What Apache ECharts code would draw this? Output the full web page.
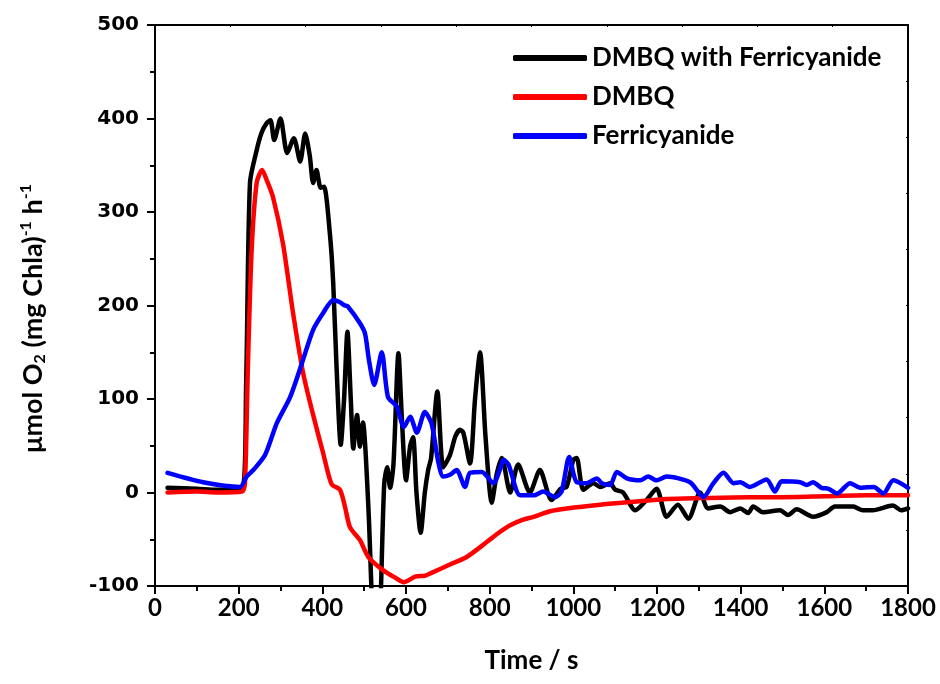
<!DOCTYPE html>
<html>
<head>
<meta charset="utf-8">
<script src="https://cdn.jsdelivr.net/npm/echarts@6/dist/echarts.min.js"></script>
<style>
  html, body { margin: 0; padding: 0; background: #fff; }
  #chart { width: 940px; height: 684px; }
</style>
</head>
<body>
<div id="chart"></div>
<script>
// time (s) / O2 rate pairs
const seriesNames = ['DMBQ with Ferricyanide', 'DMBQ', 'Ferricyanide']
const seriesColors = ['#000000', '#ff0000', '#0000ff']

const dmbqFerri = [
  [30, 5], [100, 4], [150, 3], [208, 3], [218, 120], [227, 331], [243, 366], [255, 385],
  [267, 395], [276, 398], [285, 377], [300, 400], [316, 363], [332, 379], [347, 354],
  [359, 384], [370, 360], [378, 331], [386, 345], [396, 326], [404, 327], [418, 277],
  [426, 224], [434, 134], [444, 51], [452, 100], [460, 172], [468, 100], [474, 47],
  [483, 83], [490, 49], [497, 75], [510, -15], [518, -110], [525, -180], [535, -170],
  [540, -105], [548, 10], [555, 27], [562, 5], [570, 30], [582, 149], [590, 80], [600, 13],
  [610, 50], [617, 59], [625, 0], [635, -43], [645, 0], [653, 24], [660, 37], [675, 108],
  [689, 27], [705, 40], [718, 60], [729, 67], [737, 64], [753, 31], [765, 100], [777, 150],
  [790, 60], [805, -11], [817, 20], [829, 37], [849, 0], [868, 30], [896, 0], [920, 24],
  [948, -8], [970, 4], [984, 6], [1000, 35], [1008, 37], [1024, 3], [1048, 10], [1064, 6],
  [1088, 10], [1100, 3], [1119, 0], [1148, -19], [1175, -8], [1199, 4], [1223, -26],
  [1250, -13], [1275, -28], [1303, 0], [1322, -17], [1351, -15], [1375, -21], [1399, -17],
  [1418, -22], [1430, -15], [1453, -21], [1494, -19], [1513, -24], [1534, -18], [1573, -26],
  [1606, -21], [1625, -15], [1669, -15], [1692, -19], [1716, -19], [1764, -14], [1784, -19],
  [1800, -17]
]

const dmbq = [
  [30, 0], [100, 1], [150, 0], [208, 1], [215, 10], [222, 134], [231, 259], [243, 331],
  [256, 345], [268, 333], [282, 316], [306, 266], [330, 192], [354, 128], [378, 83],
  [402, 42], [422, 9], [442, 3], [454, -15], [466, -37], [490, -51], [510, -69], [545, -83],
  [570, -90], [595, -96], [622, -90], [645, -89], [661, -86], [705, -77], [745, -69], [793, -53],
  [825, -42], [849, -35], [880, -29], [905, -26], [944, -20], [984, -17], [1064, -13],
  [1143, -10], [1223, -7], [1303, -6], [1418, -5], [1500, -5], [1600, -4], [1700, -3],
  [1800, -3]
]

const ferri = [
  [30, 21], [115, 11], [203, 6], [219, 17], [235, 24], [263, 40], [291, 74], [323, 102],
  [351, 138], [378, 174], [402, 192], [426, 206], [440, 204], [454, 200], [461, 199],
  [490, 181], [502, 170], [512, 140], [524, 115], [542, 150], [557, 102], [578, 92],
  [595, 70], [610, 81], [626, 64], [645, 86], [661, 74], [677, 33], [689, 17], [705, 19],
  [721, 24], [741, 6], [753, 21], [781, 22], [809, 10], [825, 25], [833, 35], [845, 30],
  [873, -3], [905, -3], [928, 1], [956, -5], [972, 1], [990, 38], [1008, 11], [1032, 10],
  [1056, 15], [1068, 10], [1088, 8], [1104, 22], [1128, 15], [1160, 13], [1179, 17],
  [1199, 13], [1223, 17], [1279, 11], [1311, -5], [1335, 10], [1359, 21], [1383, 10],
  [1399, 11], [1422, 6], [1462, 14], [1482, 1], [1498, 12], [1542, 11], [1558, 8],
  [1573, 11], [1593, 5], [1610, 4], [1630, -1], [1662, 10], [1686, 5], [1718, 6],
  [1741, -1], [1765, 13], [1800, 5]
]

const seriesData = [dmbqFerri, dmbq, ferri]

const chart = echarts.init(document.getElementById('chart'), null, { renderer: 'canvas' })

const axisLine = { show: true, onZero: false, lineStyle: { color: '#000', width: 2 } }
const boldFont = { fontFamily: 'Lato', fontWeight: 'bold', color: '#000' }

chart.setOption({
  animation: false,
  backgroundColor: '#fff',
  grid: { left: 155, right: 32, top: 25, bottom: 98 },
  legend: {
    orient: 'vertical',
    left: 508,
    top: 40,
    itemGap: 13,
    itemWidth: 74,
    itemHeight: 6,
    icon: 'roundRect',
    selectedMode: false,
    textStyle: { ...boldFont, fontSize: 26 },
    data: seriesNames
  },
  xAxis: [{
    type: 'value',
    position: 'bottom',
    min: 0,
    max: 1800,
    interval: 200,
    axisLine,
    axisTick: { show: true, inside: false, length: 8, lineStyle: { color: '#000', width: 2 } },
    minorTick: { show: true, splitNumber: 2, length: 5, lineStyle: { color: '#000', width: 2 } },
    splitLine: { show: false },
    axisLabel: { ...boldFont, fontSize: 24, margin: 10, formatter: (v) => String(v) },
    name: 'Time / s',
    nameLocation: 'middle',
    nameGap: 62,
    nameTextStyle: { ...boldFont, fontSize: 26 }
  }, {
    type: 'value',
    position: 'top',
    min: 0,
    max: 10,
    interval: 1,
    axisLine,
    axisTick: { show: true, inside: true, length: 2, lineStyle: { color: '#000', width: 1 } },
    axisLabel: { show: false },
    splitLine: { show: false }
  }],
  yAxis: [{
    type: 'value',
    position: 'left',
    min: -100,
    max: 500,
    interval: 100,
    axisLine,
    axisTick: { show: true, inside: false, length: 8, lineStyle: { color: '#000', width: 2 } },
    minorTick: { show: true, splitNumber: 2, length: 5, lineStyle: { color: '#000', width: 2 } },
    splitLine: { show: false },
    axisLabel: { fontFamily: 'DejaVu Sans', fontWeight: 'bold', fontSize: 20, color: '#000', margin: 16 },
    name: '{t|μmol O}{sub|2}{t| (mg Chla)}{sup|-1}{t| h}{sup|-1}',
    nameLocation: 'middle',
    nameGap: 104,
    nameTextStyle: {
      color: '#000',
      padding: [0, 26, 0, 0],
      rich: {
        t: { ...boldFont, fontSize: 27, lineHeight: 36, verticalAlign: 'middle' },
        sub: { ...boldFont, fontSize: 16, lineHeight: 36, verticalAlign: 'bottom', padding: [0, 0, 3, 0] },
        sup: { ...boldFont, fontSize: 16, lineHeight: 36, verticalAlign: 'top', padding: [3, 0, 0, 0] }
      }
    }
  }, {
    type: 'value',
    position: 'right',
    min: 0,
    max: 10,
    interval: 1,
    axisLine,
    axisTick: { show: true, inside: true, length: 2, lineStyle: { color: '#000', width: 1 } },
    axisLabel: { show: false },
    splitLine: { show: false }
  }],
  series: seriesData.map((data, i) => ({
    name: seriesNames[i],
    type: 'line',
    xAxisIndex: 0,
    yAxisIndex: 0,
    data,
    smooth: 0.25,
    showSymbol: false,
    clip: true,
    color: seriesColors[i],
    lineStyle: { color: seriesColors[i], width: 4.5, cap: 'round', join: 'round' }
  }))
})
</script>
</body>
</html>
